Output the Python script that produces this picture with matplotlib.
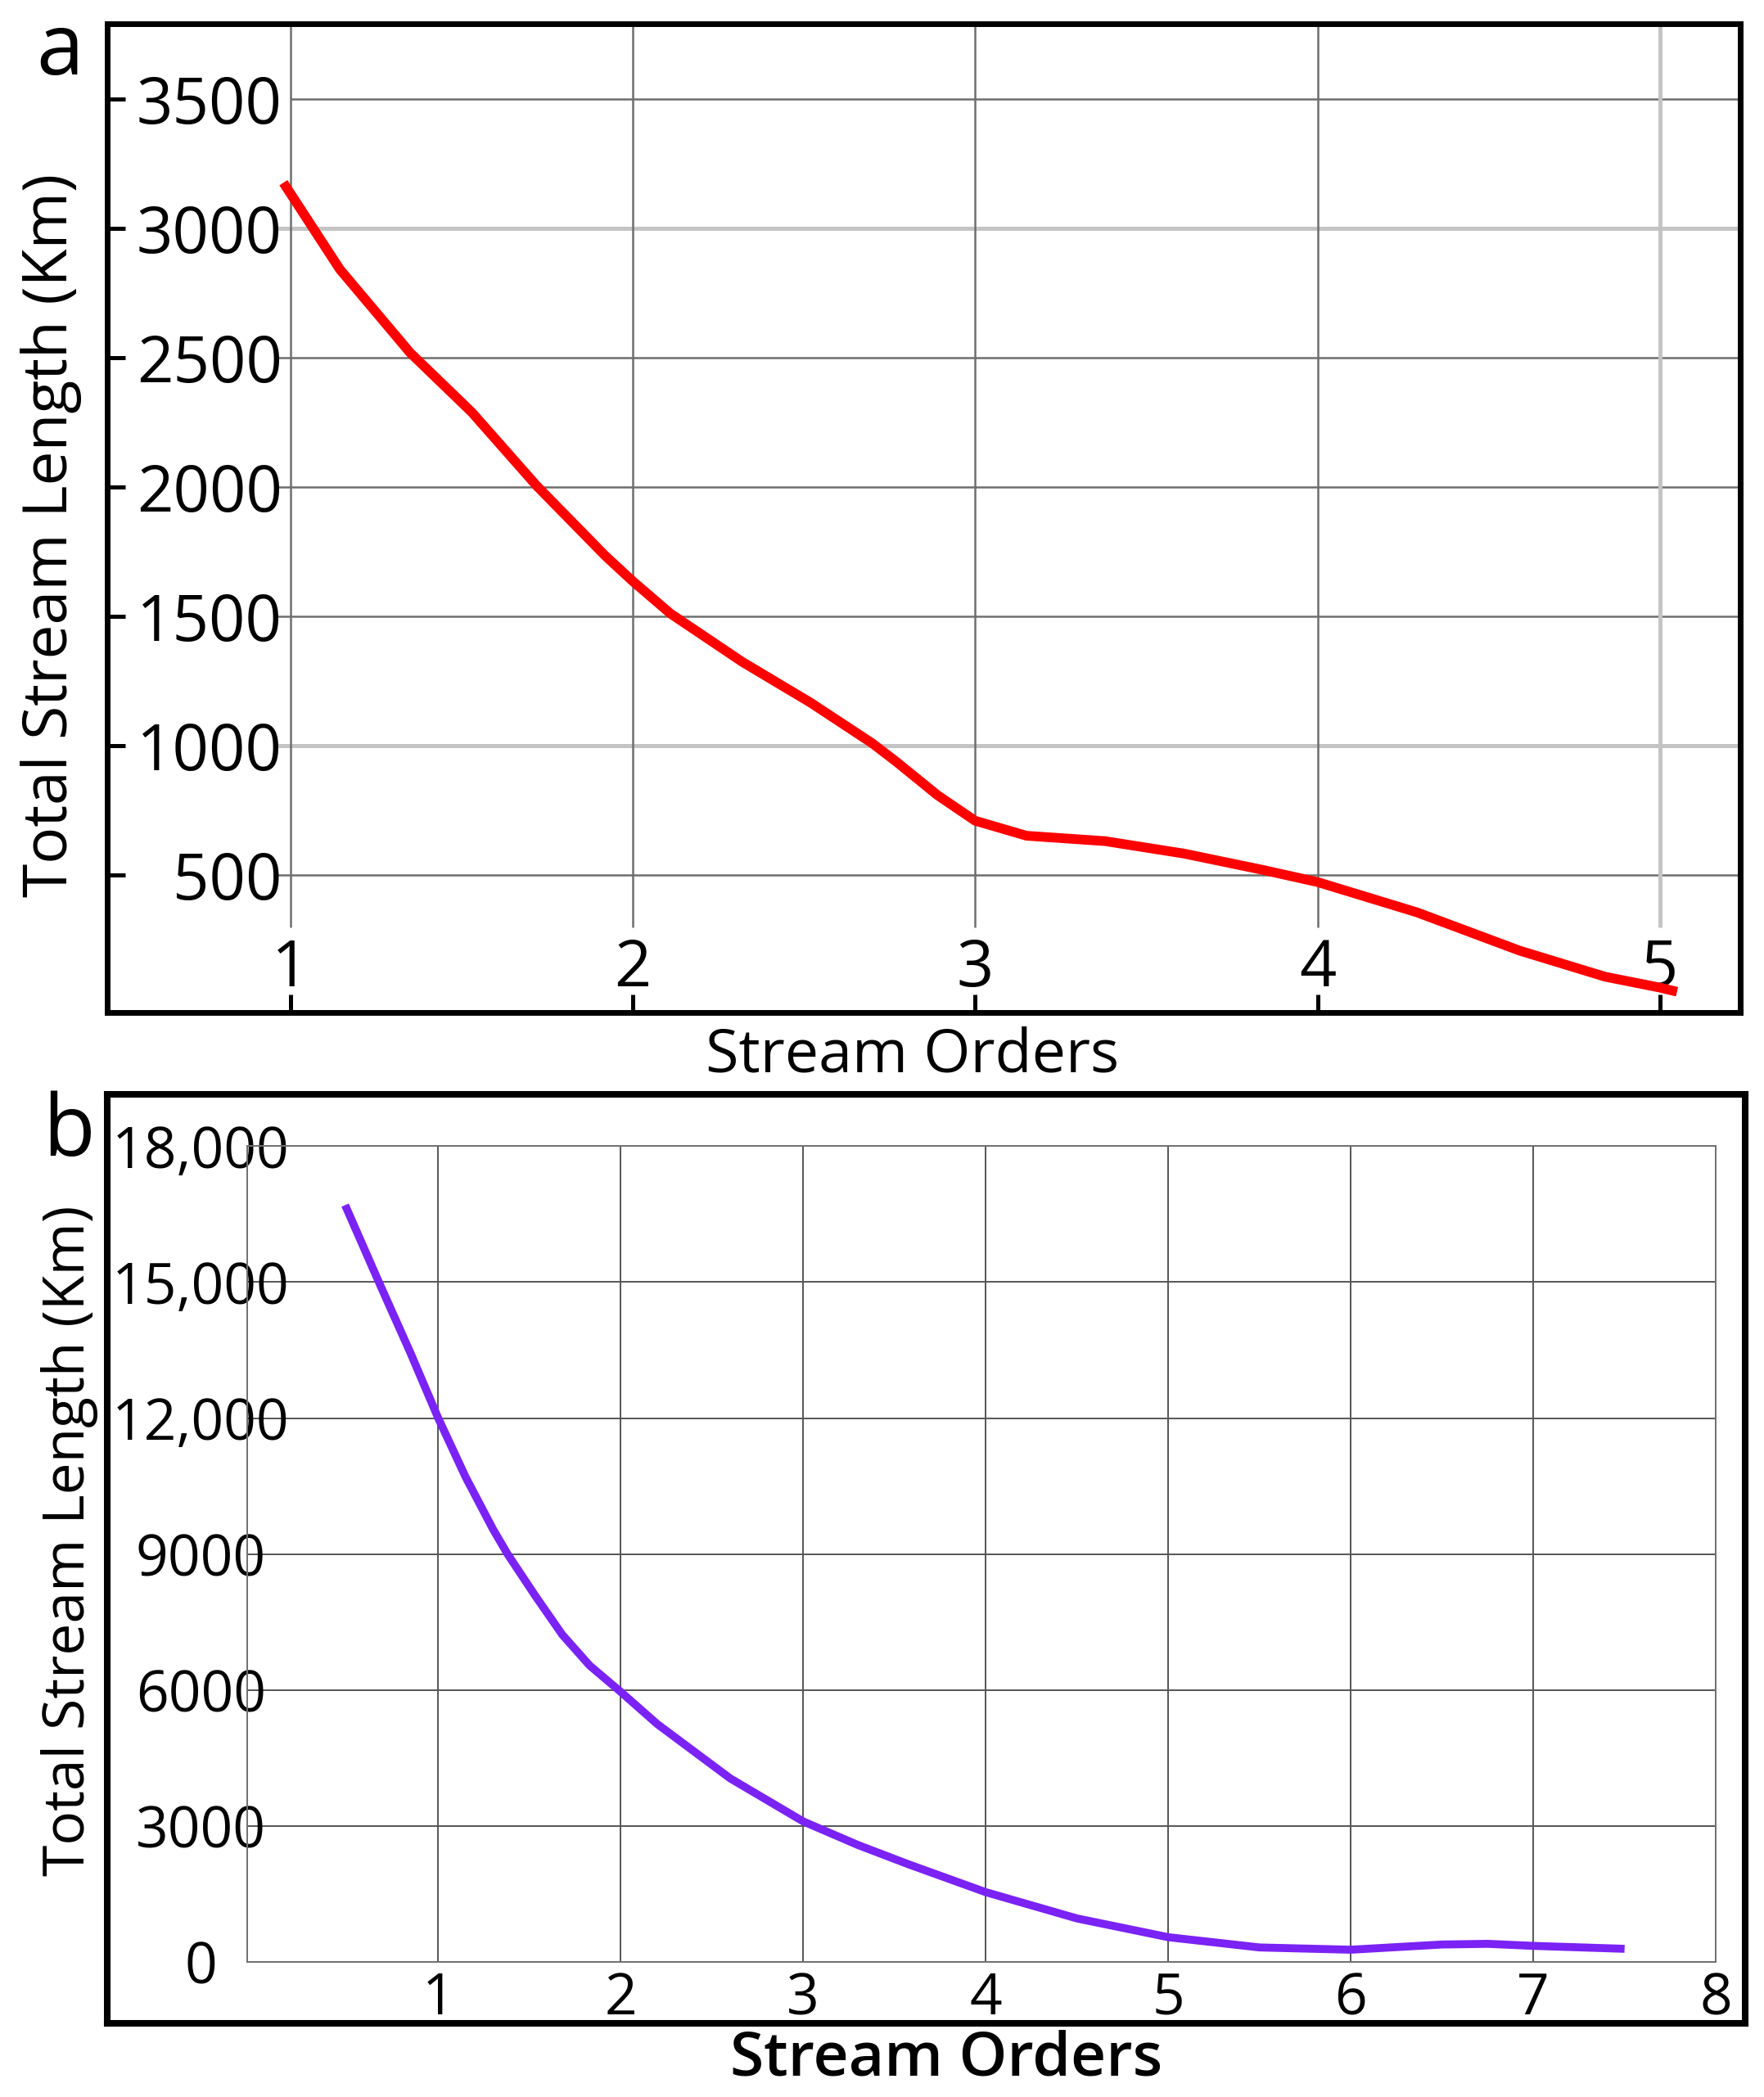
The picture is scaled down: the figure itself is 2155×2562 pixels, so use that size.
import matplotlib
matplotlib.use("Agg")
import matplotlib.pyplot as plt

plt.rcParams['font.family'] = ['Open Sans', 'DejaVu Sans']

# Panel a: total stream length per stream order
order_a = [0.98, 1.145, 1.35, 1.53, 1.72, 1.92, 2.0, 2.11, 2.32, 2.52, 2.70, 2.77,
           2.89, 3.0, 3.15, 3.38, 3.61, 3.84, 4.0, 4.29, 4.59, 4.84, 5.0, 5.05]
length_a = [3177, 2842, 2520, 2290, 2005, 1735, 1637, 1512, 1325, 1167, 1010, 939,
            810, 711, 653, 632, 584, 521, 474, 357, 209, 108, 66, 50]
yticks_a = [500, 1000, 1500, 2000, 2500, 3000, 3500]
xticks_a = [1, 2, 3, 4, 5]

# Panel b
order_b = [0.49, 0.675, 0.85, 1.0, 1.15, 1.30, 1.38, 1.53, 1.68, 1.83, 2.0, 2.2,
           2.6, 3.0, 3.3, 3.58, 4.0, 4.5, 5.0, 5.5, 6.0, 6.5, 6.75, 7.0, 7.5]
length_b = [16700, 15000, 13420, 12000, 10700, 9550, 9000, 8090, 7220, 6540, 5960, 5250,
            4050, 3100, 2580, 2150, 1540, 960, 546, 320, 270, 385, 400, 355, 290]
yticks_b = [0, 3000, 6000, 9000, 12000, 15000, 18000]
ylabels_b = ["0", "3000", "6000", "9000", "12,000", "15,000", "18,000"]
xticks_b = [1, 2, 3, 4, 5, 6, 7, 8]

fig = plt.figure(figsize=(21.55, 25.62), dpi=100)

#----------------------
# panel a
axA = fig.add_axes([0.0607, 0.5172, 0.9257, 0.4713])
axA.set_xlim(0.465, 5.234)
axA.set_ylim(-30, 3790)

for y in yticks_a:
    light = y in (1000, 3000)
    x0 = 1.0 if y == 3500 else 0.955
    axA.hlines(y, x0, 5.234, color="#c4c4c4" if light else "#6e6e6e",
               lw=3.6 if light else 1.8, zorder=1)
for x in xticks_a:
    light = x == 5
    axA.vlines(x, 300, 3790, color="#c4c4c4" if light else "#6e6e6e",
               lw=3.6 if light else 1.8, zorder=1)

axA.plot(order_a, length_a, color="red", lw=8.5, solid_capstyle="butt",
         solid_joinstyle="round", zorder=3)

axA.set_yticks(yticks_a)
axA.set_yticklabels([str(v) for v in yticks_a])
axA.set_xticks(xticks_a)
axA.set_xticklabels([str(v) for v in xticks_a])
axA.tick_params(axis="y", direction="in", length=16, width=3.6, pad=-154, labelsize=56)
axA.tick_params(axis="x", direction="in", length=16, width=3.6, pad=-66, labelsize=57)
for s in axA.spines.values():
    s.set_linewidth(5)

axA.set_ylabel("Total Stream Length (Km)", fontsize=54, ha="center", va="center")
axA.yaxis.set_label_coords(-0.0344, 0.483)
axA.set_xlabel("Stream Orders", fontsize=53, ha="center", va="center")
axA.xaxis.set_label_coords(0.493, -0.0447)

fig.text(0.0341, 0.9645, "a", fontsize=75, ha="center", va="baseline")

#----------------------
# panel b
frameB = fig.add_axes([0.0607, 0.0351, 0.9287, 0.4432], zorder=0)
frameB.set_xticks([])
frameB.set_yticks([])
frameB.patch.set_alpha(0)
for s in frameB.spines.values():
    s.set_linewidth(5.8)

axB = fig.add_axes([0.1403, 0.0644, 0.8324, 0.3890], zorder=1)
axB.patch.set_alpha(0)
axB.set_xlim(-0.045, 8)
axB.set_ylim(0, 18000)
axB.set_xticks(xticks_b)
axB.set_xticklabels([str(v) for v in xticks_b])
axB.set_yticks(yticks_b)
axB.set_yticklabels(ylabels_b)
axB.grid(True, color="#555555", lw=1.4, zorder=1)
axB.set_axisbelow(True)
for s in axB.spines.values():
    s.set_linewidth(1.4)
    s.set_color("#707070")

axB.plot(order_b, length_b, color="#7b22f5", lw=7, solid_capstyle="butt",
         solid_joinstyle="round", zorder=3)

axB.tick_params(axis="y", length=0, pad=41, labelsize=50)
axB.tick_params(axis="x", length=0, pad=8, labelsize=50)
for lbl in axB.get_yticklabels():
    lbl.set_horizontalalignment("center")

axB.set_ylabel("Total Stream Length (Km)", fontsize=50, ha="center", va="center")
axB.yaxis.set_label_coords(-0.1211, 0.516)
axB.set_xlabel("Stream Orders", fontsize=54, fontweight="semibold", ha="center", va="center")
axB.xaxis.set_label_coords(0.476, -0.1197)

fig.text(0.039, 0.449, "b", fontsize=75, ha="center", va="baseline")

fig.savefig("out.png", dpi=100)
